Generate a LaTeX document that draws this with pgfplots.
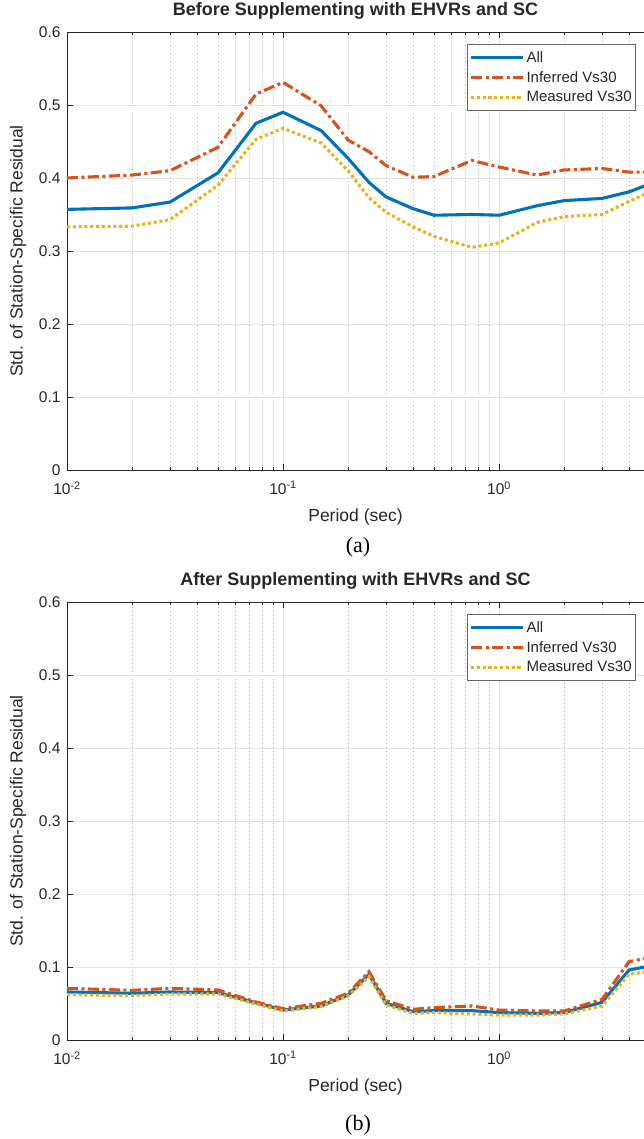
\documentclass[border=0pt]{standalone}
\usepackage{fontspec}
\setmainfont{Liberation Sans}
\newfontfamily\seriffont{Liberation Serif}
\usepackage{pgfplots}
\usepackage{pgfplotstable}
\pgfplotsset{compat=1.18}
\definecolor{mblue}{rgb}{0,0.447,0.741}
\definecolor{mred}{rgb}{0.85,0.325,0.098}
\definecolor{myel}{rgb}{0.929,0.694,0.125}
\definecolor{axc}{HTML}{262626}

\pgfplotstableread{
T      all     inf     meas
0.01   0.357   0.400   0.333
0.02   0.359   0.404   0.334
0.03   0.367   0.410   0.343
0.05   0.407   0.442   0.390
0.075  0.475   0.515   0.453
0.1    0.490   0.531   0.468
0.15   0.465   0.499   0.448
0.2    0.427   0.452   0.410
0.25   0.394   0.436   0.373
0.3    0.374   0.417   0.353
0.4    0.358   0.401   0.333
0.5    0.349   0.402   0.320
0.75   0.350   0.424   0.305
1      0.349   0.415   0.311
1.5    0.362   0.404   0.339
2      0.369   0.411   0.347
3      0.372   0.413   0.350
4      0.381   0.408   0.368
5      0.392   0.408   0.381
}\before

\pgfplotstableread{
T      all     inf     meas
0.01   0.0658  0.0708  0.0620
0.02   0.0640  0.0680  0.0607
0.03   0.0658  0.0708  0.0630
0.05   0.0648  0.0685  0.0630
0.075  0.0510  0.0520  0.0493
0.1    0.0411  0.0429  0.0397
0.15   0.0466  0.0502  0.0457
0.2    0.0616  0.0640  0.0603
0.25   0.0900  0.0936  0.0868
0.3    0.0502  0.0539  0.0480
0.4    0.0388  0.0420  0.0365
0.5    0.0402  0.0443  0.0375
0.75   0.0402  0.0466  0.0356
1      0.0375  0.0410  0.0342
1.5    0.0365  0.0397  0.0342
2      0.0375  0.0397  0.0356
3      0.0516  0.0557  0.0466
4      0.0959  0.1073  0.0900
5      0.1015  0.1129  0.0940
}\after

\tikzset{
  allstyle/.style={color=mblue, solid, line width=3.1pt},
  infstyle/.style={color=mred, line width=3.1pt, dash pattern=on 11pt off 3.5pt on 3pt off 3.5pt},
  measstyle/.style={color=myel, line width=3.1pt, dash pattern=on 3.1pt off 2.7pt},
}
\pgfplotsset{
  every axis/.append style={
    scale only axis, width=577pt, height=438pt,
    xtick pos=both, ytick pos=left,
    tick align=inside,
    major tick length=6pt, minor tick length=3pt,
    tick style={color=axc, line width=0.6pt},
    axis line style={color=axc, line width=0.7pt},
    major grid style={color=black!11, line width=0.6pt, solid},
    minor grid style={color=black!30, line width=0.6pt, dash pattern=on 1pt off 3pt},
    ticklabel style={font=\fontsize{15.5}{18}\selectfont, text=axc},
    xticklabel style={yshift=-8pt},
    yticklabel style={xshift=-3pt},
    label style={font=\fontsize{17.5}{20}\selectfont, text=axc},
    xlabel style={at={(axis description cs:0.5,0)}, anchor=center, yshift=-47pt},
    ylabel style={at={(axis description cs:-0.0849,0.5)}, anchor=center},
    title style={at={(axis description cs:0.5,1)}, anchor=base, yshift=10pt, font=\bfseries\fontsize{18}{21}\selectfont, text=axc},
    legend style={at={(0.986,0.9726)}, anchor=north east, draw=black!60, line width=0.6pt,
      font=\fontsize{15}{18}\selectfont, text=axc, fill=white,
      inner xsep=2pt, inner ysep=5pt, row sep=3.5pt},
    legend cell align=left,
  },
  legend image code/.code={\draw[#1] (0pt,0pt) -- (52pt,0pt);},
}

\begin{document}
\begin{tikzpicture}
\useasboundingbox (0,0) rectangle (643pt,1139pt);
\begin{axis}[at={(67pt,669pt)}, anchor=south west,
  xmode=log, xmin=0.01, xmax=4.69, ymin=0, ymax=0.6,
  xtick={0.01,0.1,1},
  xticklabels={10\textsuperscript{-2},10\textsuperscript{-1},10\textsuperscript{0}},
  minor xtick={0.02,0.03,0.04,0.05,0.06,0.07,0.08,0.09,0.2,0.3,0.4,0.5,0.6,0.7,0.8,0.9,2,3,4},
  ytick={0,0.1,0.2,0.3,0.4,0.5,0.6},
  yticklabels={0,0.1,0.2,0.3,0.4,0.5,0.6},
  grid=both,
  xlabel={Period (sec)},
  ylabel={Std. of Station-Specific Residual},
  title={Before Supplementing with EHVRs and SC}]
\addplot[allstyle] table[x=T,y=all] {\before};
\addplot[infstyle] table[x=T,y=inf] {\before};
\addplot[measstyle] table[x=T,y=meas] {\before};
\legend{All,Inferred Vs30,Measured Vs30}
\end{axis}
\begin{axis}[at={(67pt,99pt)}, anchor=south west,
  xmode=log, xmin=0.01, xmax=4.69, ymin=0, ymax=0.6,
  xtick={0.01,0.1,1},
  xticklabels={10\textsuperscript{-2},10\textsuperscript{-1},10\textsuperscript{0}},
  minor xtick={0.02,0.03,0.04,0.05,0.06,0.07,0.08,0.09,0.2,0.3,0.4,0.5,0.6,0.7,0.8,0.9,2,3,4},
  ytick={0,0.1,0.2,0.3,0.4,0.5,0.6},
  yticklabels={0,0.1,0.2,0.3,0.4,0.5,0.6},
  grid=both,
  xlabel={Period (sec)},
  ylabel={Std. of Station-Specific Residual},
  title={After Supplementing with EHVRs and SC}]
\addplot[allstyle] table[x=T,y=all] {\after};
\addplot[infstyle] table[x=T,y=inf] {\after};
\addplot[measstyle] table[x=T,y=meas] {\after};
\legend{All,Inferred Vs30,Measured Vs30}
\end{axis}
\node[font=\seriffont\fontsize{22}{26}\selectfont, anchor=center] at (358pt,592pt) {(a)};
\node[font=\seriffont\fontsize{22}{26}\selectfont, anchor=center] at (358pt,14pt) {(b)};
\end{tikzpicture}
\end{document}
